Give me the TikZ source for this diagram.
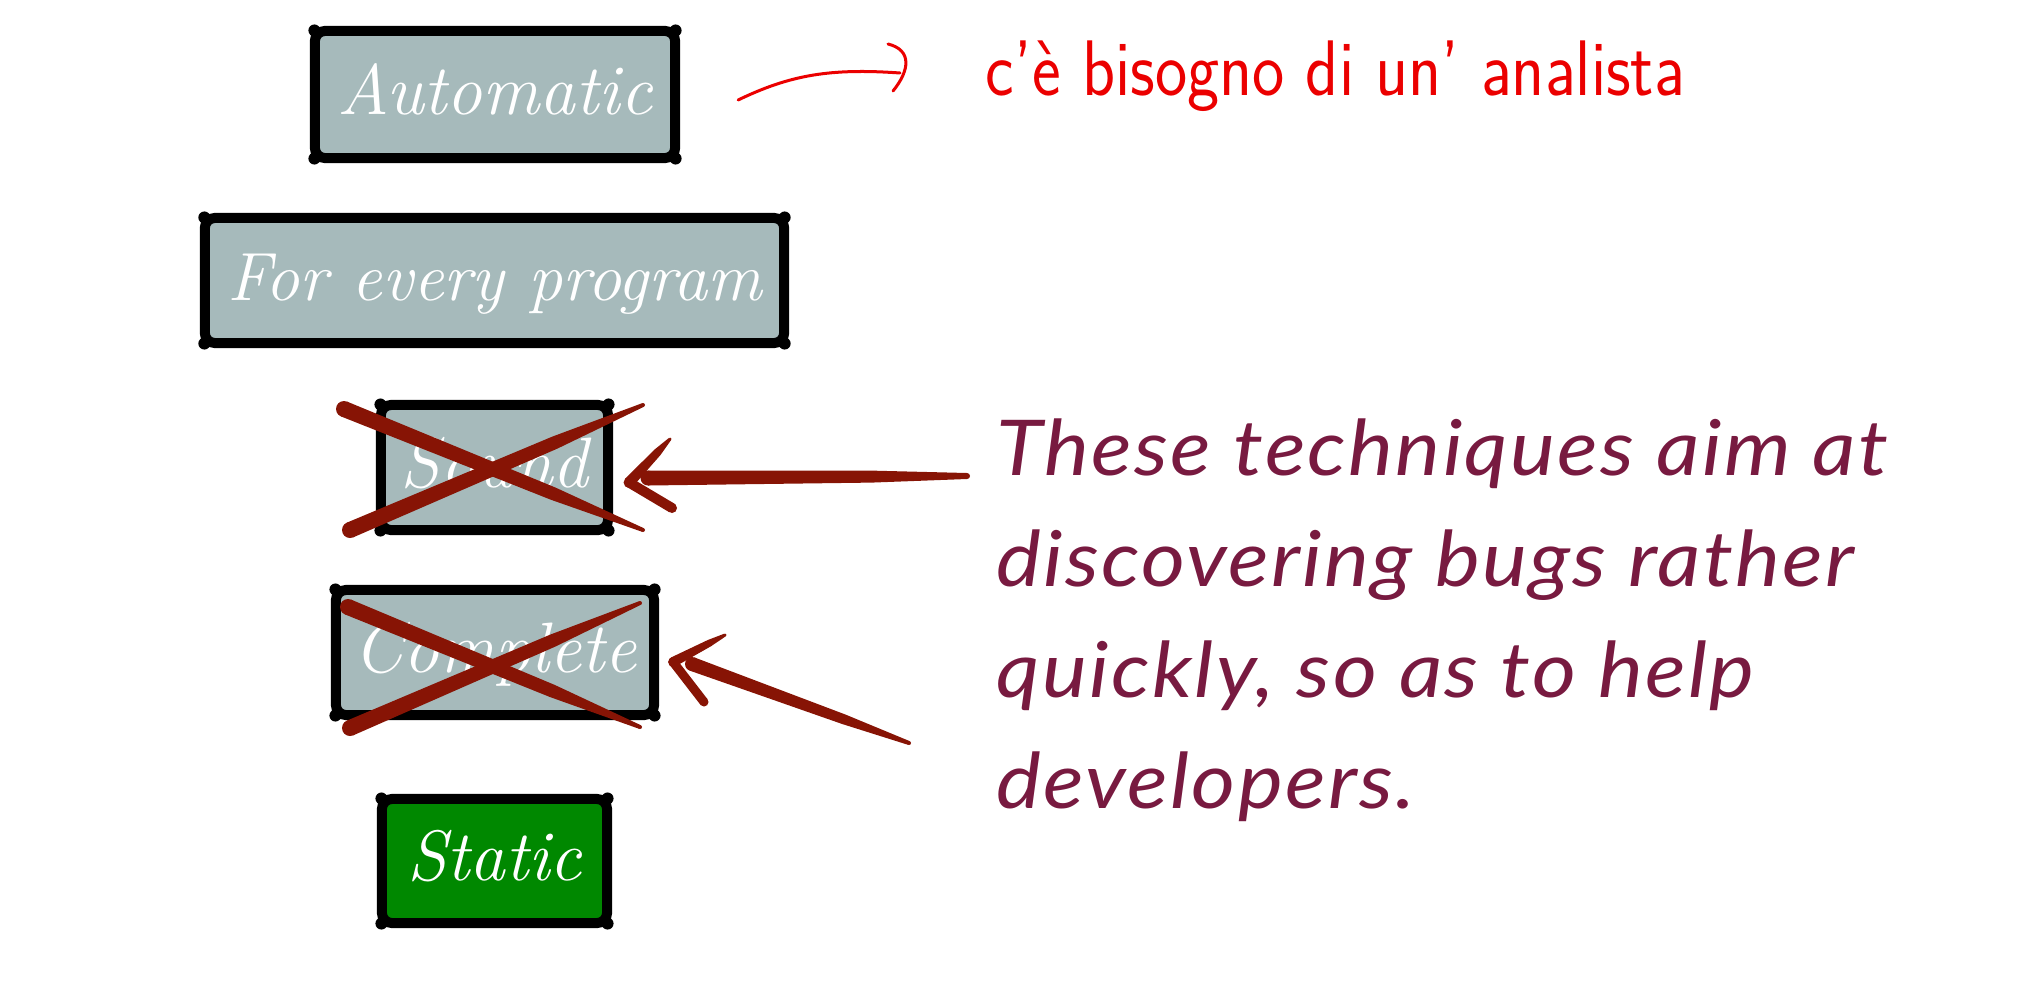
\documentclass[tikz,border=0pt]{standalone}
\usepackage{fontspec}
\usetikzlibrary{calc}
\newfontfamily\avenir[FakeStretch=1.1,LetterSpace=3]{Lato}
\definecolor{boxgray}{RGB}{166,186,187}
\definecolor{boxgreen}{RGB}{0,136,0}
\definecolor{brushred}{RGB}{135,20,5}
\definecolor{maroon}{RGB}{120,26,64}
\definecolor{penred}{RGB}{235,0,0}
% thick end #1, thin end #2, widths #3 (start), #5 (at 70%), #4 (end)
\newcommand\brushstroke[5]{%
  \coordinate (bsm) at ($(#1)!0.7!(#2)$);
  \fill[brushred] ($(#1)!#3!90:(#2)$) -- ($(bsm)!#5!90:(#2)$) -- ($(#2)!#4!-90:(#1)$)
    -- ($(#2)!#4!90:(#1)$) -- ($(bsm)!#5!-90:(#2)$) -- ($(#1)!#3!-90:(#2)$) -- cycle;
  \fill[brushred] (#1) circle[radius=#3];
  \fill[brushred] (#2) circle[radius=#4];}
\begin{document}
\begin{tikzpicture}[x=0.01cm,y=-0.01cm,
  techbox/.style={draw=black, line width=0.1cm, rounded corners=0.1cm, fill=boxgray,
    text=white, font=\fontsize{20.3}{24}\selectfont\itshape, minimum height=1.25cm,
    inner sep=0pt, text height=0.52cm, text depth=0.13cm},
  bigtext/.style={font=\avenir\itshape\fontsize{21.9}{31}\selectfont, text=maroon,
    inner sep=0pt, anchor=base west},
  knob/.style={fill=black},
  pen/.style={draw=penred, line width=0.03cm, line cap=round, line join=round}]
\useasboundingbox (0,0) rectangle (2025,1000);
% boxes
\node[techbox, minimum width=3.6cm, minimum height=1.27cm] (auto) at (495,94.5) {Automatic};
\node[techbox, minimum width=5.79cm, font=\fontsize{19.4}{24}\selectfont\itshape] (every) at (494.5,280.5) {For every program};
\node[techbox, minimum width=2.27cm] (sound) at (494.5,467.5) {Sound};
\node[techbox, minimum width=3.18cm] (complete) at (495,652.5) {Complete};
\node[techbox, minimum width=2.25cm, minimum height=1.24cm, fill=boxgreen] (static) at (494.5,861) {Static};
\foreach \n in {auto,every,sound,complete,static}{
  \fill[knob] ($(\n.north west)+(4.5,4.5)$) circle[radius=0.06cm];
  \fill[knob] ($(\n.north east)+(-4.5,4.5)$) circle[radius=0.06cm];
  \fill[knob] ($(\n.south west)+(4.5,-4.5)$) circle[radius=0.06cm];
  \fill[knob] ($(\n.south east)+(-4.5,-4.5)$) circle[radius=0.06cm];
}
% crosses
\coordinate (sxa) at (344,409); \coordinate (sxb) at (643,530);
\coordinate (sxc) at (350,530); \coordinate (sxd) at (643,405);
\brushstroke{sxa}{sxb}{0.08cm}{0.02cm}{0.065cm}
\brushstroke{sxc}{sxd}{0.08cm}{0.02cm}{0.065cm}
\coordinate (cxa) at (348,607); \coordinate (cxb) at (640,727);
\coordinate (cxc) at (350,728); \coordinate (cxd) at (640,603);
\brushstroke{cxa}{cxb}{0.08cm}{0.02cm}{0.065cm}
\brushstroke{cxc}{cxd}{0.08cm}{0.02cm}{0.065cm}
% big text
\node[bigtext] (l1) at (996,475) {These techniques aim at};
\node[bigtext] (l2) at (996,586) {discovering bugs rather};
\node[bigtext] (l3) at (996,697) {quickly, so as to help};
\node[bigtext] (l4) at (996,808) {developers.};
% brush arrows
\coordinate (stip) at ($(sound.east)+(16,15)$);
\coordinate (sshaft) at (648,478); \coordinate (send) at (967,476);
\coordinate (sup) at (670,439); \coordinate (sdn) at (672,508);
\brushstroke{sshaft}{send}{0.075cm}{0.03cm}{0.06cm}
\brushstroke{stip}{sup}{0.055cm}{0.015cm}{0.04cm}
\brushstroke{stip}{sdn}{0.05cm}{0.05cm}{0.05cm}
\coordinate (ctip) at ($(complete.east)+(14,9.5)$);
\coordinate (cshaft) at (692,664); \coordinate (cend) at (909,743);
\coordinate (cup) at (725,635); \coordinate (cdn) at (704,702);
\brushstroke{cshaft}{cend}{0.07cm}{0.02cm}{0.05cm}
\brushstroke{ctip}{cup}{0.05cm}{0.015cm}{0.035cm}
\brushstroke{ctip}{cdn}{0.045cm}{0.045cm}{0.045cm}
% red note
\node[anchor=base west, inner sep=0pt, text=penred, font=\sffamily\fontsize{16}{18}\selectfont] (note) at (985,95)
  {\scalebox{1.215}[1.4]{c'è bisogno di un' analista}};
\coordinate (na) at ($(auto.east)+(58,5.5)$);
\coordinate (nb) at (900,73);
\draw[pen] (na) .. controls (790,75) and (830,68) .. (nb);
\coordinate (nh1) at (888,44); \coordinate (nh2) at (893,91);
\draw[pen] (nh1) .. controls (912,50) and (910,70) .. (nh2);
\end{tikzpicture}
\end{document}
